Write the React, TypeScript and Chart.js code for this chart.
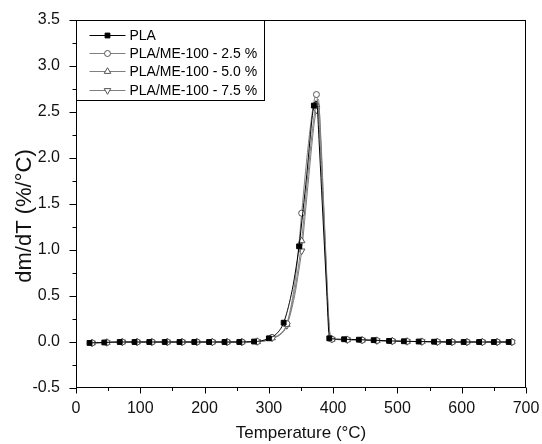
import React, { useEffect, useRef } from 'react';
import { Chart, registerables } from 'chart.js';

Chart.register(...registerables);

// ---- Data (temperature °C, dm/dT %/°C) ----
// PLA: marker points and extra curve points (no marker)
const plaMarkerTemp = [21, 44, 68, 91, 114, 138, 161, 184, 207, 231, 254, 277, 300, 323, 347, 370, 394, 417, 440, 463, 487, 510, 533, 557, 580, 603, 627, 650, 673];
const plaMarkerValue = [-0.01, -0.005, 0, 0, 0, 0, 0, 0, 0, 0, 0, 0.005, 0.04, 0.21, 1.04, 2.57, 0.04, 0.03, 0.025, 0.02, 0.012, 0.008, 0.005, 0.003, 0, 0, 0, 0, 0];
const plaCurveTemp = [288, 312, 335, 341, 353, 359, 364, 367, 373, 375, 378, 382, 386, 390, 393];
const plaCurveValue = [0.012, 0.09, 0.52, 0.75, 1.42, 1.82, 2.2, 2.42, 2.62, 2.58, 2.2, 1.65, 1.1, 0.55, 0.12];

// PLA/ME-100 blends share marker temperatures
const blendMarkerTemp = [25, 48, 72, 95, 118, 142, 165, 188, 212, 235, 258, 282, 305, 328, 351, 374, 398, 422, 445, 468, 492, 515, 538, 562, 585, 608, 632, 655, 678];
const blendCurveTemp = [294, 316, 340, 346, 357, 363, 368, 371, 377, 381, 385, 389, 393, 395];

const me25MarkerValue = [-0.01, -0.005, 0, 0, 0, 0, 0, 0, 0, 0, 0, 0.005, 0.05, 0.2, 1.4, 2.69, 0.03, 0.025, 0.02, 0.015, 0.01, 0.006, 0.004, 0.002, 0, 0, 0, 0, 0];
const me25CurveValue = [0.015, 0.08, 0.62, 1.0, 1.85, 2.25, 2.52, 2.64, 2.5, 2.0, 1.4, 0.8, 0.22, 0.07];

const me50MarkerValue = [-0.01, -0.005, 0, 0, 0, 0, 0, 0, 0, 0, 0, 0.005, 0.045, 0.19, 1.1, 2.58, 0.03, 0.025, 0.02, 0.015, 0.01, 0.006, 0.004, 0.002, 0, 0, 0, 0, 0];
const me50CurveValue = [0.012, 0.075, 0.55, 0.82, 1.55, 1.98, 2.32, 2.48, 2.64, 2.15, 1.5, 0.85, 0.25, 0.08];

const me75MarkerValue = [-0.01, -0.005, 0, 0, 0, 0, 0, 0, 0, 0, 0, 0.005, 0.045, 0.18, 0.99, 2.52, 0.03, 0.025, 0.02, 0.015, 0.01, 0.006, 0.004, 0.002, 0, 0, 0, 0, 0];
const me75CurveValue = [0.012, 0.07, 0.5, 0.75, 1.42, 1.86, 2.22, 2.4, 2.6, 2.2, 1.55, 0.9, 0.28, 0.09];

const seriesLabels = ['PLA', 'PLA/ME-100 - 2.5 %', 'PLA/ME-100 - 5.0 %', 'PLA/ME-100 - 7.5 %'];
const xTitle = 'Temperature (°C)';
const yTitle = 'dm/dT (%/°C)';

const xMin = 0, xMax = 700, xStep = 50, xLabelStep = 100;
const yMin = -0.5, yMax = 3.5, yStep = 0.25, yLabelStep = 0.5;

type Pt = { x: number; y: number; m: boolean };
function buildPoints(mT: number[], mV: number[], cT: number[], cV: number[]): Pt[] {
  const pts: Pt[] = [
    ...mT.map((x, i) => ({ x, y: mV[i], m: true })),
    ...cT.map((x, i) => ({ x, y: cV[i], m: false })),
  ];
  return pts.sort((a, b) => a.x - b.x);
}

const FONT = 'Arial, "Liberation Sans", sans-serif';

function drawMarker(ctx: CanvasRenderingContext2D, style: string, rot: number, x: number, y: number, r: number) {
  ctx.beginPath();
  if (style === 'rect') {
    const s = Math.SQRT1_2 * r;
    ctx.rect(x - s, y - s, 2 * s, 2 * s);
  } else if (style === 'circle') {
    ctx.arc(x, y, r, 0, Math.PI * 2);
  } else {
    let a = (rot * Math.PI) / 180;
    for (let k = 0; k < 3; k++) {
      const px = x + Math.sin(a) * r;
      const py = y - Math.cos(a) * r;
      if (k === 0) ctx.moveTo(px, py); else ctx.lineTo(px, py);
      a += (2 * Math.PI) / 3;
    }
    ctx.closePath();
  }
  ctx.fill();
  ctx.stroke();
}

const framePlugin = {
  id: 'frameTicksLegend',
  afterDraw(chart: any) {
    const { ctx, chartArea: a, scales } = chart;
    const xs = scales.x, ys = scales.y;
    ctx.save();
    ctx.strokeStyle = '#000';
    ctx.lineWidth = 1;
    const L = Math.round(a.left) + 0.5, R = Math.round(a.right) - 0.5;
    const T = Math.round(a.top) + 0.5, B = Math.round(a.bottom) - 0.5;
    ctx.strokeRect(L, T, R - L, B - T);
    // tick marks (major + minor), outward
    ctx.beginPath();
    for (const t of ys.ticks) {
      const py = Math.round(ys.getPixelForValue(t.value)) + 0.5;
      const len = t.label !== '' ? 7 : 4;
      ctx.moveTo(L, py);
      ctx.lineTo(L - len, py);
    }
    for (const t of xs.ticks) {
      const px = Math.round(xs.getPixelForValue(t.value)) + 0.5;
      const len = t.label !== '' ? 6 : 3.5;
      ctx.moveTo(px, B);
      ctx.lineTo(px, B + len);
    }
    ctx.stroke();

    // y axis title (rotated)
    ctx.save();
    ctx.fillStyle = '#111';
    ctx.font = `22px ${FONT}`;
    ctx.textAlign = 'center';
    ctx.textBaseline = 'middle';
    ctx.translate(25, (a.top + a.bottom) / 2 + 12);
    ctx.rotate(-Math.PI / 2);
    ctx.fillText(yTitle, 0, 0);
    ctx.restore();

    // legend box
    const bx = L, by = T, bw = 188, bh = 80;
    ctx.fillStyle = '#fff';
    ctx.fillRect(bx, by, bw, bh);
    ctx.strokeRect(bx, by, bw, bh);
    ctx.font = `14px ${FONT}`;
    ctx.textBaseline = 'middle';
    ctx.textAlign = 'left';
    chart.data.datasets.forEach((ds: any, i: number) => {
      const ry = Math.round(by + 14.5 + i * 18.2) + 0.5;
      ctx.strokeStyle = ds.borderColor;
      ctx.lineWidth = 1;
      ctx.beginPath();
      ctx.moveTo(bx + 13, ry);
      ctx.lineTo(bx + 49, ry);
      ctx.stroke();
      ctx.fillStyle = ds.pointBackgroundColor;
      ctx.strokeStyle = ds.pointBorderColor;
      drawMarker(ctx, ds.pointStyle, ds.pointRotation || 0, bx + 31, ry, ds.legendRadius);
      ctx.fillStyle = '#000';
      ctx.fillText(ds.label, bx + 53, ry + 0.5);
    });
    ctx.restore();
  },
};

export default function App() {
  const ref = useRef<HTMLCanvasElement | null>(null);
  useEffect(() => {
    document.body.style.margin = '0';
    if (!ref.current) return;
    Chart.defaults.font.family = FONT;
    Chart.defaults.color = '#111';
    const markerR = (r: number) => (ctx: any) => (ctx.raw && ctx.raw.m ? r : 0);
    const grey = '#7f7f7f';
    const chart = new Chart(ref.current, {
      type: 'line',
      data: {
        datasets: [
          {
            label: seriesLabels[0],
            data: buildPoints(plaMarkerTemp, plaMarkerValue, plaCurveTemp, plaCurveValue),
            borderColor: '#000', borderWidth: 1,
            pointStyle: 'rect', pointBackgroundColor: '#000', pointBorderColor: '#000',
            pointBorderWidth: 1, pointRadius: markerR(3.4), legendRadius: 3.4,
          } as any,
          {
            label: seriesLabels[1],
            data: buildPoints(blendMarkerTemp, me25MarkerValue, blendCurveTemp, me25CurveValue),
            borderColor: grey, borderWidth: 1,
            pointStyle: 'circle', pointBackgroundColor: '#fff', pointBorderColor: '#555',
            pointBorderWidth: 1, pointRadius: markerR(3), legendRadius: 3,
          } as any,
          {
            label: seriesLabels[2],
            data: buildPoints(blendMarkerTemp, me50MarkerValue, blendCurveTemp, me50CurveValue),
            borderColor: grey, borderWidth: 1,
            pointStyle: 'triangle', pointBackgroundColor: '#fff', pointBorderColor: '#555',
            pointBorderWidth: 1, pointRadius: markerR(3.8), legendRadius: 3.8,
          } as any,
          {
            label: seriesLabels[3],
            data: buildPoints(blendMarkerTemp, me75MarkerValue, blendCurveTemp, me75CurveValue),
            borderColor: grey, borderWidth: 1,
            pointStyle: 'triangle', pointRotation: 180, pointBackgroundColor: '#fff', pointBorderColor: '#555',
            pointBorderWidth: 1, pointRadius: markerR(3.8), legendRadius: 3.8,
          } as any,
        ],
      },
      options: {
        responsive: false,
        maintainAspectRatio: false,
        animation: false,
        events: [],
        layout: { padding: { top: 20, right: 16, left: 0, bottom: 0 }, autoPadding: false },
        elements: { line: { cubicInterpolationMode: 'monotone' } },
        plugins: { legend: { display: false }, tooltip: { enabled: false } },
        scales: {
          x: {
            type: 'linear', min: xMin, max: xMax,
            grid: { display: false, drawTicks: false },
            border: { display: false },
            ticks: {
              stepSize: xStep, autoSkip: false, maxRotation: 0, padding: 11,
              font: { size: 16 }, color: '#111',
              callback: (v: any) => (Math.abs(v / xLabelStep - Math.round(v / xLabelStep)) < 1e-6 ? String(v) : ''),
            },
            title: { display: true, text: xTitle, font: { size: 17 }, color: '#111', padding: { top: 0, bottom: 0 } },
            afterFit: (s: any) => { s.height = 56; s.paddingLeft = 0; s.paddingRight = 0; },
          },
          y: {
            type: 'linear', min: yMin, max: yMax,
            grid: { display: false, drawTicks: false },
            border: { display: false },
            ticks: {
              stepSize: yStep, autoSkip: false, padding: 16,
              font: { size: 16 }, color: '#111',
              callback: (v: any) => (Math.abs(v / yLabelStep - Math.round(v / yLabelStep)) < 1e-6 ? Number(v).toFixed(1) : ''),
            },
            title: { display: false },
            afterFit: (s: any) => { s.width = 76; s.paddingTop = 0; s.paddingBottom = 0; },
          },
        },
      },
      plugins: [framePlugin],
    } as any);
    return () => chart.destroy();
  }, []);
  return (
    <div style={{ width: 542, height: 444 }}>
      <canvas ref={ref} width={542} height={444} style={{ display: 'block' }} />
    </div>
  );
}
